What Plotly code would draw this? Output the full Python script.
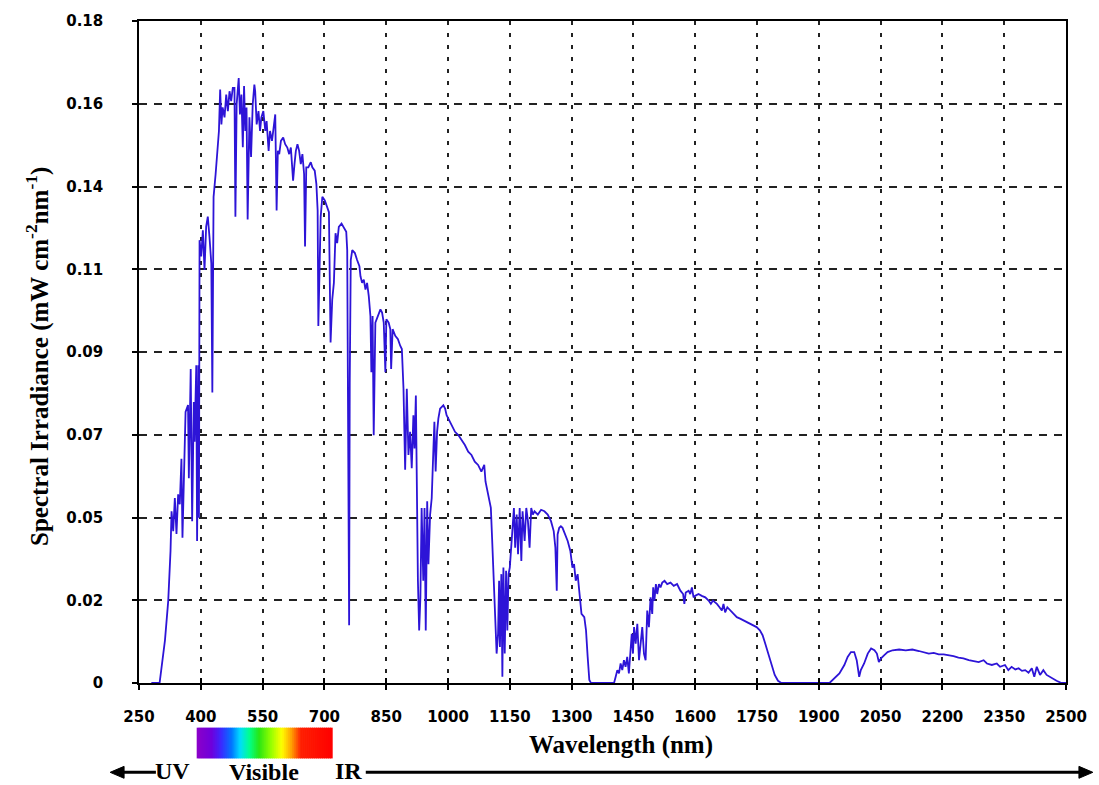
import plotly.graph_objects as go

# ---- data ----
wavelength_nm = [
    280, 300, 313, 321, 326.5, 329, 333, 337, 341, 345, 349, 353, 355.5, 359, 363, 369, 371, 375.5, 379, 383,
    385, 389, 391, 394, 395.5, 397, 401, 405, 409, 413, 417, 421, 425.5, 428, 431, 436, 439, 444, 447, 450,
    453, 457.6, 461.7, 465.7, 469.7, 473.7, 477.7, 481.7, 484, 487, 492, 495, 498.6, 502, 505, 508, 511, 513.7,
    518, 522, 526, 530, 532, 535.6, 540, 543.8, 547, 551.8, 556.6, 559.7, 564.6, 568, 572.8, 578, 580.7, 584,
    587, 590.4, 594.5, 600, 604.8, 610, 614.5, 618.6, 624, 627.4, 630.7, 634.6, 638.7, 642.7, 646.6, 650.7,
    653, 656, 661, 667, 670.7, 676.5, 680.5, 683.6, 685.3, 691, 695, 701, 707, 711, 715, 719, 723, 727, 731,
    735, 741.6, 747, 753, 755.4, 758, 760, 761.5, 764, 767.6, 774, 779.4, 785, 787.6, 791.5, 795.6, 799.7,
    803.6, 807.7, 811.7, 814, 817, 819.7, 823.7, 830, 836, 840, 844, 848, 850.4, 856, 860, 862, 865.6, 872,
    878.5, 884, 888, 892, 896, 900, 904, 908, 912, 916, 918.7, 922, 924.6, 927, 930, 933, 936, 940, 943, 946,
    949.5, 952.5, 956.6, 960.5, 964.6, 967, 970, 973.5, 976.6, 980.8, 988.7, 993, 996.6, 1000.8, 1009, 1017,
    1025, 1033, 1041, 1049, 1057, 1065, 1073, 1081, 1088, 1091, 1097.6, 1104, 1107, 1111, 1114, 1118, 1121.5,
    1124, 1126, 1129.5, 1132, 1134.5, 1137.7, 1141, 1144, 1147, 1150, 1153.6, 1157.7, 1160, 1163, 1166.7,
    1170, 1174, 1178, 1181, 1186, 1190, 1194, 1198, 1202, 1206, 1210, 1218, 1226, 1234, 1242, 1250, 1256.6,
    1260.6, 1264, 1266, 1270, 1274, 1278, 1284, 1290.5, 1297, 1302, 1306, 1310, 1314.6, 1318.7, 1324, 1330.8,
    1335, 1339, 1343, 1347, 1403, 1407, 1411, 1415, 1419, 1423, 1427, 1431, 1435, 1439, 1443, 1446, 1449,
    1451.6, 1455.5, 1459.5, 1463.6, 1467.6, 1471.5, 1475.6, 1479.6, 1483.6, 1487.7, 1491.7, 1495.7, 1498,
    1501, 1504.6, 1507.8, 1512, 1515.8, 1520, 1525.6, 1532, 1540, 1548, 1556, 1564, 1570.6, 1573.7, 1577,
    1584, 1588, 1592, 1596, 1600, 1608, 1616, 1624.5, 1632.6, 1638, 1643, 1648.5, 1652.7, 1659, 1664.7,
    1668.7, 1672.7, 1678, 1685, 1693, 1701, 1709, 1717, 1725, 1733, 1741, 1749, 1757, 1763.6, 1769, 1775,
    1781, 1788, 1793, 1801, 1809, 1926, 1938, 1950, 1962, 1970, 1978, 1986, 1992, 1998, 2002, 2010, 2018.8,
    2027, 2035, 2041, 2045.8, 2051, 2059, 2067, 2079, 2095, 2111, 2127, 2143, 2155, 2167, 2179, 2191, 2203,
    2215, 2227, 2239, 2251, 2264, 2276, 2288, 2300, 2308, 2320, 2332, 2340, 2352, 2360, 2368, 2377, 2385,
    2393, 2401, 2409, 2417, 2423, 2429, 2437, 2445, 2453, 2465, 2477, 2489, 2500,
]
irradiance = [
    0, 0, 0.0116, 0.0224, 0.0359, 0.0467, 0.0413, 0.0503, 0.0405, 0.0513, 0.0486, 0.061, 0.0395, 0.0575, 0.0737,
    0.0756, 0.0557, 0.0854, 0.044, 0.0764, 0.0656, 0.0864, 0.0386, 0.0864, 0.0449, 0.1204, 0.116, 0.1231, 0.1123,
    0.1241, 0.1268, 0.1214, 0.1141, 0.079, 0.1322, 0.1384, 0.1438, 0.1501, 0.1614, 0.1519, 0.1565, 0.1538, 0.16,
    0.1555, 0.1609, 0.1582, 0.1618, 0.1618, 0.1268, 0.1573, 0.1645, 0.1546, 0.16, 0.1457, 0.1623, 0.1501, 0.1565,
    0.126, 0.1538, 0.143, 0.1573, 0.1627, 0.1609, 0.1519, 0.1555, 0.1501, 0.1538, 0.1555, 0.1501, 0.1528, 0.1447,
    0.1501, 0.1474, 0.1519, 0.1546, 0.1285, 0.1447, 0.1438, 0.1474, 0.1483, 0.1465, 0.1456, 0.1438, 0.1456,
    0.1366, 0.1411, 0.1447, 0.1465, 0.1447, 0.1411, 0.1438, 0.1384, 0.1187, 0.1402, 0.1402, 0.1416, 0.1402,
    0.1393, 0.1357, 0.1285, 0.0971, 0.1268, 0.1322, 0.1312, 0.1295, 0.128, 0.0926, 0.1042, 0.1088, 0.1223,
    0.1196, 0.124, 0.1249, 0.124, 0.1227, 0.1177, 0.0692, 0.0157, 0.0818, 0.115, 0.1177, 0.1169, 0.115, 0.1133,
    0.1106, 0.1088, 0.1097, 0.107, 0.1088, 0.1052, 0.0998, 0.0845, 0.0998, 0.0674, 0.098, 0.0998, 0.1016,
    0.1007, 0.098, 0.0845, 0.0989, 0.098, 0.0962, 0.0854, 0.0962, 0.0944, 0.0935, 0.0917, 0.0908, 0.08, 0.058,
    0.08, 0.062, 0.0683, 0.0584, 0.0728, 0.0638, 0.0782, 0.0458, 0.0278, 0.0143, 0.0233, 0.0476, 0.0278,
    0.0476, 0.0143, 0.0494, 0.0323, 0.0458, 0.0503, 0.0638, 0.071, 0.0575, 0.0683, 0.0719, 0.0746, 0.0755,
    0.0746, 0.0728, 0.0719, 0.0701, 0.0683, 0.0674, 0.066, 0.0647, 0.0629, 0.062, 0.0602, 0.0593, 0.0575,
    0.0593, 0.0548, 0.0512, 0.0476, 0.0395, 0.0278, 0.017, 0.008, 0.0134, 0.0278, 0.0098, 0.0296, 0.0017,
    0.0314, 0.008, 0.0305, 0.0143, 0.0296, 0.0314, 0.0368, 0.044, 0.0476, 0.0368, 0.0458, 0.035, 0.0476,
    0.0332, 0.0467, 0.0386, 0.0476, 0.044, 0.0368, 0.0476, 0.0458, 0.0467, 0.0458, 0.0471, 0.0467, 0.0458,
    0.044, 0.0413, 0.0368, 0.0251, 0.0404, 0.0422, 0.0426, 0.0422, 0.0404, 0.0386, 0.0359, 0.0314, 0.0323,
    0.0278, 0.0296, 0.0242, 0.0188, 0.0179, 0.0143, 0.0071, 0.0008, 0, 0, 0.0017, 0.0035, 0.0026, 0.0053,
    0.0035, 0.0062, 0.0044, 0.0071, 0.0026, 0.0089, 0.0134, 0.008, 0.0152, 0.0107, 0.0161, 0.0062, 0.0116,
    0.0152, 0.008, 0.0062, 0.0197, 0.0152, 0.0233, 0.0188, 0.026, 0.0224, 0.0269, 0.0242, 0.0269, 0.026,
    0.0273, 0.0278, 0.0269, 0.0273, 0.0264, 0.0269, 0.0251, 0.0242, 0.0215, 0.0246, 0.0251, 0.0242, 0.026,
    0.0233, 0.0237, 0.0242, 0.0237, 0.0233, 0.0224, 0.0215, 0.0224, 0.022, 0.0215, 0.0206, 0.0197, 0.0215,
    0.0192, 0.0206, 0.0197, 0.0188, 0.0179, 0.0175, 0.017, 0.0166, 0.0161, 0.0157, 0.0152, 0.0143, 0.013,
    0.0111, 0.0089, 0.0071, 0.0044, 0.0022, 0.0006, 0, 0, 0.0013, 0.0026, 0.0049, 0.0071, 0.0084, 0.0084,
    0.0062, 0.0017, 0.0035, 0.0053, 0.008, 0.0094, 0.0089, 0.008, 0.0057, 0.0067, 0.0076, 0.0084, 0.0089,
    0.0091, 0.0089, 0.0091, 0.0087, 0.0084, 0.008, 0.0082, 0.0078, 0.0078, 0.0076, 0.0073, 0.0069, 0.0067,
    0.0062, 0.0059, 0.0057, 0.0062, 0.0053, 0.0049, 0.0053, 0.0044, 0.0049, 0.0035, 0.0044, 0.0037, 0.004,
    0.0033, 0.0035, 0.0028, 0.004, 0.0017, 0.0044, 0.0022, 0.0035, 0.0022, 0.0013, 0.0006, 0, 0,
]

x_tickvals = list(range(250, 2501, 150))
x_ticktext = [str(v) for v in x_tickvals]
y_tickvals = [0, 0.0225, 0.045, 0.0675, 0.09, 0.1125, 0.135, 0.1575, 0.18]
y_ticktext = ["0", "0.02", "0.05", "0.07", "0.09", "0.11", "0.14", "0.16", "0.18"]

# visible-spectrum colour band stops (position 0..1, rgb)
band_stops = [
    (0.00, (140, 0, 200)), (0.11, (110, 0, 220)), (0.18, (60, 40, 255)), (0.26, (0, 120, 255)),
    (0.32, (0, 220, 255)), (0.39, (0, 255, 140)), (0.46, (40, 230, 20)), (0.55, (150, 255, 0)),
    (0.63, (255, 255, 0)), (0.70, (255, 160, 0)), (0.77, (255, 30, 0)), (1.00, (255, 0, 0)),
]

W, H = 1099, 785
ML, MR, MT, MB = 139, 28, 16, 102
PW, PH = W - ML - MR, H - MT - MB


def px_x(px):
    return (px - ML) / PW


def px_y(py):
    return (H - MB - py) / PH


fig = go.Figure()
fig.add_trace(go.Scatter(x=wavelength_nm, y=irradiance, mode="lines",
                         line=dict(color="rgb(45,20,215)", width=1.8), showlegend=False,
                         hoverinfo="x+y"))
# invisible helper trace for the overlaid tick axis
fig.add_trace(go.Scatter(x=[250], y=[0], xaxis="x2", mode="markers",
                         marker=dict(opacity=0), showlegend=False, hoverinfo="skip"))

tickfont = dict(family="DejaVu Sans", size=15, color="black", weight="bold")
fig.update_layout(
    width=W, height=H,
    margin=dict(l=ML, r=MR, t=MT, b=MB),
    paper_bgcolor="white", plot_bgcolor="white",
    xaxis=dict(range=[250, 2500], tickvals=x_tickvals, ticktext=x_ticktext,
               ticks="outside", ticklen=5, tickwidth=1.5, tickcolor="black",
               showline=True, linecolor="black", linewidth=1.5, mirror=True,
               showgrid=True, gridcolor="#222", gridwidth=1.5, griddash="4px,8px",
               zeroline=False, tickfont=tickfont, ticklabelstandoff=14),
    xaxis2=dict(overlaying="x", matches="x", anchor="y", range=[250, 2500],
                tickvals=x_tickvals, ticks="inside", ticklen=5, tickwidth=1.5,
                tickcolor="black", showticklabels=False, showgrid=False,
                showline=False, zeroline=False, side="bottom"),
    yaxis=dict(range=[0, 0.18], tickvals=y_tickvals, ticktext=y_ticktext,
               ticks="outside", ticklen=5, tickwidth=1.5, tickcolor="black",
               showline=True, linecolor="black", linewidth=1.5, mirror=True,
               showgrid=True, gridcolor="#222", gridwidth=1.5, griddash="8px,7px",
               zeroline=False, tickfont=tickfont, ticklabelstandoff=26),
)

title_font = dict(family="Liberation Serif", size=25, color="black", weight="bold")
label_font = dict(family="Liberation Serif", size=24, color="black", weight="bold")
annotations = [
    dict(text="Wavelength (nm)", x=px_x(624), y=px_y(745), xref="paper", yref="paper",
         showarrow=False, font=title_font, xanchor="center", yanchor="middle"),
    dict(text="Spectral Irradiance (mW cm<sup>-2</sup>nm<sup>-1</sup>)", x=px_x(37), y=px_y(354),
         xref="paper", yref="paper", showarrow=False, font=title_font, textangle=-90,
         xanchor="center", yanchor="middle"),
    dict(text="UV", x=px_x(172.5), y=px_y(772), xref="paper", yref="paper", showarrow=False,
         font=label_font, xanchor="center", yanchor="middle", borderpad=0),
    dict(text="Visible", x=px_x(265), y=px_y(773), xref="paper", yref="paper", showarrow=False,
         font=label_font, xanchor="center", yanchor="middle", borderpad=0),
    dict(text="IR", x=px_x(350), y=px_y(772), xref="paper", yref="paper", showarrow=False,
         font=label_font, xanchor="center", yanchor="middle", borderpad=0),
]
fig.update_layout(annotations=annotations)


def interp_color(t):
    for (t0, c0), (t1, c1) in zip(band_stops[:-1], band_stops[1:]):
        if t0 <= t <= t1:
            f = 0 if t1 == t0 else (t - t0) / (t1 - t0)
            return "rgb(%d,%d,%d)" % tuple(round(a + (b - a) * f) for a, b in zip(c0, c1))
    return "rgb(255,0,0)"


band_x0, band_x1, band_y0, band_y1 = 197, 333, 728, 759
n = 68
shapes = []
for i in range(n):
    a = band_x0 + (band_x1 - band_x0) * i / n
    b = band_x0 + (band_x1 - band_x0) * (i + 1) / n
    shapes.append(dict(type="rect", xref="paper", yref="paper",
                       x0=px_x(a), x1=px_x(b) + 0.0008, y0=px_y(band_y1), y1=px_y(band_y0),
                       fillcolor=interp_color((i + 0.5) / n), line=dict(width=0), layer="below"))

# UV / IR arrows drawn as shapes
ay = 773
shapes.append(dict(type="line", xref="paper", yref="paper", x0=px_x(120), x1=px_x(156),
                   y0=px_y(ay), y1=px_y(ay), line=dict(color="black", width=3)))
shapes.append(dict(type="path", xref="paper", yref="paper",
                   path="M %f,%f L %f,%f L %f,%f Z" % (px_x(110), px_y(ay), px_x(124), px_y(ay - 6),
                                                       px_x(124), px_y(ay + 6)),
                   fillcolor="black", line=dict(color="black", width=1)))
shapes.append(dict(type="line", xref="paper", yref="paper", x0=px_x(367), x1=px_x(1088),
                   y0=px_y(ay), y1=px_y(ay), line=dict(color="black", width=3)))
shapes.append(dict(type="path", xref="paper", yref="paper",
                   path="M %f,%f L %f,%f L %f,%f Z" % (px_x(1098), px_y(ay), px_x(1084), px_y(ay - 6),
                                                       px_x(1084), px_y(ay + 6)),
                   fillcolor="black", line=dict(color="black", width=1)))
fig.update_layout(shapes=shapes)

fig.write_html("out.html")
